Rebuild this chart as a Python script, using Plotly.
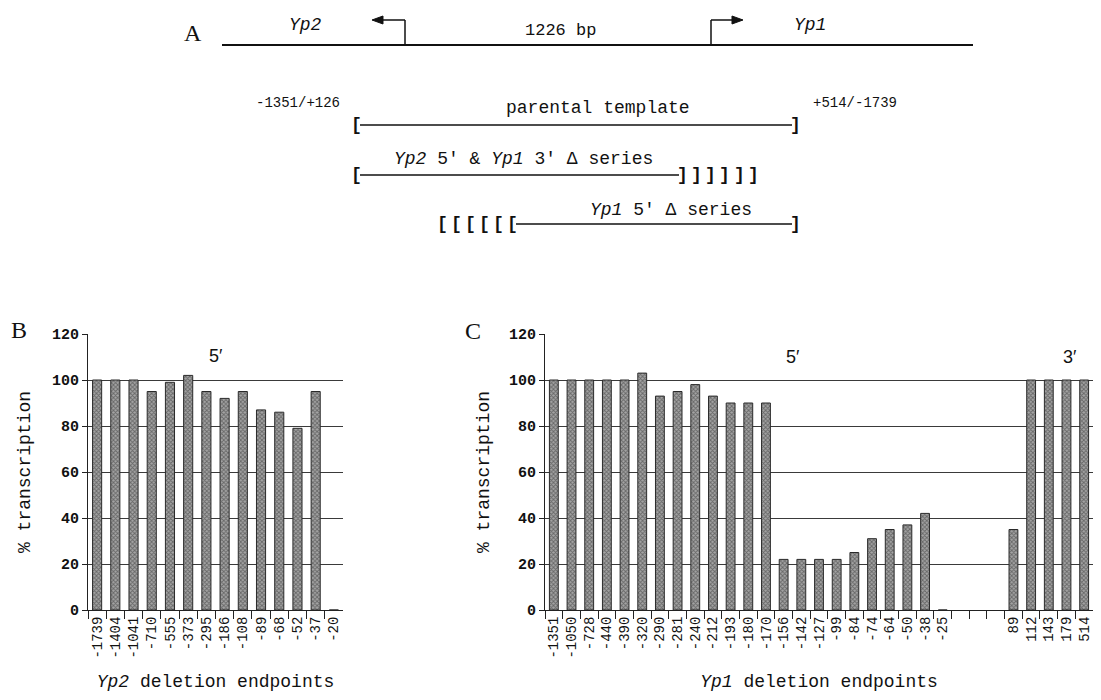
import plotly.graph_objects as go

# ---------------- data ----------------
yp2_labels = ["-1739", "-1404", "-1041", "-710", "-555", "-373", "-295", "-186",
              "-108", "-89", "-68", "-52", "-37", "-20"]
yp2_values = [100, 100, 100, 95, 99, 102, 95, 92, 95, 87, 86, 79, 95, 0]

yp1_labels = ["-1351", "-1050", "-728", "-440", "-390", "-320", "-290", "-281",
              "-240", "-212", "-193", "-180", "-170", "-156", "-142", "-127",
              "-99", "-84", "-74", "-64", "-50", "-38", "-25",
              " ", "  ", "   ",
              "89", "112", "143", "179", "514"]
yp1_values = [100, 100, 100, 100, 100, 103, 93, 95, 98, 93, 90, 90, 90,
              22, 22, 22, 22, 25, 31, 35, 37, 42, 0,
              None, None, None,
              35, 100, 100, 100, 100]

y_ticks = [0, 20, 40, 60, 80, 100, 120]

# ---------------- style ----------------
OFF = 8  # default page body margin of the html page
W, H = 1101 - 2 * OFF, 700 - 2 * OFF
MONO = "Liberation Mono"
SERIF = "Liberation Serif"
SANS = "Liberation Sans"


def px(x):
    return (x - OFF) / W


def py(y):
    return 1 - (y - OFF) / H


bar_marker = dict(
    color="#8c8c8c",
    line=dict(color="#2a2a2a", width=1),
    pattern=dict(shape="x", fgcolor="#2a2a2a", bgcolor="#a4a4a4",
                 size=3, solidity=0.5),
)

fig = go.Figure()
fig.add_trace(go.Bar(x=yp2_labels, y=yp2_values, marker=bar_marker, width=0.5,
                     xaxis="x", yaxis="y", showlegend=False))
fig.add_trace(go.Bar(x=yp1_labels, y=yp1_values, marker=bar_marker, width=0.5,
                     xaxis="x2", yaxis="y2", showlegend=False))

y_dom = [py(610), py(334)]

xaxis_common = dict(
    type="category", showline=True, linecolor="#222", linewidth=1,
    ticks="outside", ticklen=8, tickcolor="#222", tickson="boundaries",
    tickangle=-90, tickfont=dict(family=MONO, size=14, color="#111"),
    showgrid=False, zeroline=False, automargin=False,
)
yaxis_common = dict(
    range=[0, 120], tickvals=y_ticks, showline=True, linecolor="#222",
    linewidth=1, ticks="outside", ticklen=5, tickcolor="#222",
    showgrid=True, gridcolor="#3a3a3a", gridwidth=1, zeroline=False,
    tickfont=dict(family=MONO, size=15, color="#111", weight="bold"),
    automargin=False,
)

fig.update_layout(
    width=W, height=H,
    margin=dict(l=0, r=0, t=0, b=0),
    paper_bgcolor="white", plot_bgcolor="white",
    bargap=0.5,
    xaxis=dict(xaxis_common, domain=[px(88), px(343)], anchor="y",
               range=[-0.5, 13.5],
               title=dict(text="<i>Yp2</i> deletion endpoints",
                          font=dict(family=MONO, size=18, color="#111"),
                          standoff=24)),
    yaxis=dict(yaxis_common, domain=y_dom, anchor="x",
               title=dict(text="% transcription",
                          font=dict(family=MONO, size=18, color="#111"),
                          standoff=16)),
    xaxis2=dict(xaxis_common, domain=[px(545), px(1093)], anchor="y2",
                range=[-0.5, 30.5],
                title=dict(text="<i>Yp1</i> deletion endpoints",
                           font=dict(family=MONO, size=18, color="#111"),
                           standoff=24)),
    yaxis2=dict(yaxis_common, domain=y_dom, anchor="x2",
                title=dict(text="% transcription",
                           font=dict(family=MONO, size=18, color="#111"),
                           standoff=14)),
)

ann = []


def text(x, y, s, size=15, family=MONO, xanchor="center", bold=False, color="#111"):
    f = dict(family=family, size=size, color=color)
    if bold:
        f["weight"] = "bold"
    ann.append(dict(x=px(x), y=py(y), xref="paper", yref="paper", text=s,
                    showarrow=False, xanchor=xanchor, yanchor="middle", font=f))


# panel letters
text(193, 33, "A", size=24, family=SERIF)
text(19, 330, "B", size=24, family=SERIF)
text(473, 331, "C", size=24, family=SERIF)

# 5'/3' labels
text(216, 356, "5\u2032", size=18, family=SANS)
text(793, 357, "5\u2032", size=18, family=SANS)
text(1070, 357, "3\u2032", size=18, family=SANS)

# panel A text
text(305, 25, "<i>Yp2</i>", size=18)
text(560, 31, "1226 bp", size=17)
text(810, 25, "<i>Yp1</i>", size=18)
text(298, 103, "-1351/+126", size=14)
text(598, 108, "parental template", size=18)
text(855, 103, "+514/-1739", size=14)
text(523, 159, "<i>Yp2</i> 5\u2032 & <i>Yp1</i> 3\u2032 \u0394 series", size=18)
text(671, 210, "<i>Yp1</i> 5\u2032 \u0394 series", size=18)

# brackets
text(357, 125, "[", size=18, bold=True)
text(795, 125, "]", size=18, bold=True)
text(357, 175, "[", size=18, bold=True)
for i in range(6):
    text(682 + 14.3 * i, 175, "]", size=18, bold=True)
for i in range(6):
    text(442 + 14 * i, 224, "[", size=18, bold=True)
text(795, 224, "]", size=18, bold=True)

fig.update_layout(annotations=ann)

shapes = []


def line(x0, y0, x1, y1, w=1.5):
    shapes.append(dict(type="line", xref="paper", yref="paper",
                       x0=px(x0), y0=py(y0), x1=px(x1), y1=py(y1),
                       line=dict(color="#111", width=w)))


def tri(pts):
    d = "M " + " L ".join(f"{px(a):.5f},{py(b):.5f}" for a, b in pts) + " Z"
    shapes.append(dict(type="path", xref="paper", yref="paper", path=d,
                       fillcolor="#111", line=dict(color="#111", width=1)))


# gene line and promoters
line(222, 45, 973, 45, 2)
line(405, 45, 405, 20, 1.5)
line(405, 20, 382, 20, 1.5)
tri([(372, 20), (383, 16), (383, 24)])
line(711, 45, 711, 20, 1.5)
line(711, 20, 733, 20, 1.5)
tri([(743, 20), (732, 16), (732, 24)])

# template lines
line(360, 125, 792, 125, 1.5)
line(360, 175, 679, 175, 1.5)
line(516, 224, 792, 224, 1.5)

fig.update_layout(shapes=shapes)

fig.write_html("out.html")
